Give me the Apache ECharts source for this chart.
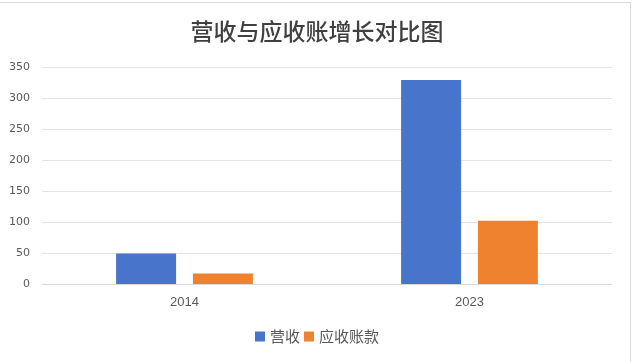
<!DOCTYPE html>
<html>
<head>
<meta charset="utf-8">
<script src="https://cdn.jsdelivr.net/npm/echarts@6/dist/echarts.min.js"></script>
<style>
html,body{margin:0;padding:0;background:#fff;}
#frame{position:absolute;left:-1px;top:2px;width:632px;height:370px;border:1px solid #d9d9d9;box-sizing:border-box;}
#main{position:absolute;left:0;top:0;width:634px;height:362px;}
</style>
</head>
<body>
<div id="frame"></div>
<div id="main"></div>
<script>
const categories = ['2014', '2023'];
const revenue = [49, 329];
const receivables = [17, 102];
const seriesNames = ['营收', '应收账款'];

const chart = echarts.init(document.getElementById('main'), null, {renderer: 'canvas'});
chart.setOption({
  animation: false,
  title: {
    text: '营收与应收账增长对比图',
    left: 'center',
    top: 15,
    textStyle: {fontFamily: 'Noto Sans CJK SC', fontSize: 23, fontWeight: 500, color: '#404040'}
  },
  legend: {
    data: seriesNames,
    bottom: 13,
    left: 'center',
    itemWidth: 10,
    itemHeight: 10,
    itemGap: 4,
    icon: 'rect',
    textStyle: {fontFamily: 'Noto Sans CJK SC', fontSize: 15, color: '#595959'}
  },
  grid: {left: 42, right: 22, top: 67, bottom: 78, containLabel: false},
  xAxis: {
    type: 'category',
    data: categories,
    axisLine: {lineStyle: {color: '#d9d9d9'}},
    axisTick: {show: false},
    axisLabel: {fontFamily: 'Liberation Sans', fontSize: 13, color: '#595959', margin: 12}
  },
  yAxis: {
    type: 'value',
    min: 0, max: 350, interval: 50,
    axisLine: {show: false},
    axisTick: {show: false},
    splitLine: {lineStyle: {color: '#e3e3e3'}},
    axisLabel: {fontFamily: 'DejaVu Sans', fontSize: 11, color: '#595959', margin: 12}
  },
  series: [
    {name: seriesNames[0], type: 'bar', data: revenue, barWidth: 60, barGap: '28%', itemStyle: {color: '#4874cb'}},
    {name: seriesNames[1], type: 'bar', data: receivables, barWidth: 60, itemStyle: {color: '#ee822f'}}
  ]
});
</script>
</body>
</html>
